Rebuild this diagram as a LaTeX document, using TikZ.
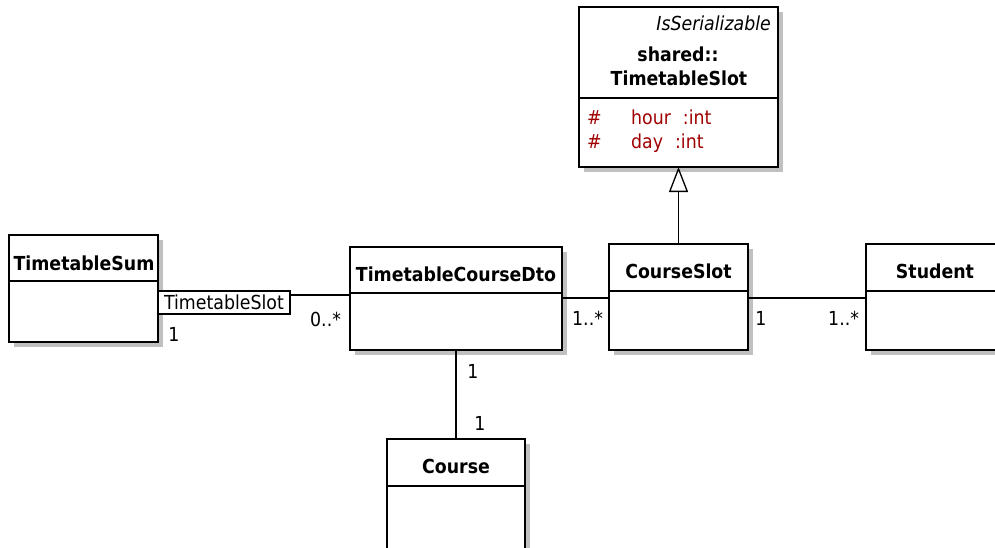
\documentclass[tikz,border=0pt]{standalone}
\usepackage{fontspec}
\setmainfont{DejaVu Sans Condensed}
\usetikzlibrary{shadows,arrows.meta,calc}
\definecolor{attr}{RGB}{160,0,0}
\definecolor{shade}{RGB}{192,192,192}
\tikzset{
  cls/.style={draw, line width=1.4pt, fill=white, inner sep=0pt, outer sep=0pt, anchor=north west,
    drop shadow={shadow xshift=5pt, shadow yshift=-5pt, fill=shade, opacity=1}},
  div/.style={line width=1.2pt},
  ttl/.style={font=\fontsize{19.3}{22}\selectfont\bfseries, anchor=base, inner sep=0pt},
  txt/.style={font=\fontsize{19.3}{22}\selectfont, inner sep=0pt},
  mult/.style={txt, anchor=base},
  assoc/.style={line width=1.3pt},
}
\begin{document}
\begin{tikzpicture}[x=1pt,y=-1pt]
\useasboundingbox (0,0) rectangle (995,547);
\clip (0,0) rectangle (995,547);

% shared::TimetableSlot
\node[cls, minimum width=199pt, minimum height=160pt] (shared) at (579,7) {};
\draw[div] ([yshift=-91pt]shared.north west) -- ([yshift=-91pt]shared.north east);
\node[txt, font=\fontsize{19.3}{22}\selectfont\itshape, anchor=base east] (ser) at (771,30) {IsSerializable};
\node[ttl] (sh1) at (678,61) {shared::};
\node[ttl] (sh2) at (679,85) {TimetableSlot};
\node[txt, text=attr, anchor=base west] (h1) at (587,124) {\#};
\node[txt, text=attr, anchor=base west] (a1) at (631,124) {hour\hspace{12pt}:int};
\node[txt, text=attr, anchor=base west] (h2) at (587,148) {\#};
\node[txt, text=attr, anchor=base west] (a2) at (631,148) {day\hspace{12pt}:int};

% TimetableSum
\node[cls, minimum width=149pt, minimum height=107pt] (sum) at (9,235) {};
\draw[div] ([yshift=-46pt]sum.north west) -- ([yshift=-46pt]sum.north east);
\node[ttl] (sumT) at (84,270) {TimetableSum};
\node[txt, draw, line width=1.2pt, fill=white, anchor=north west, outer sep=0pt,
      minimum width=132pt, minimum height=23pt] (qual) at (158,291) {TimetableSlot};

% TimetableCourseDto
\node[cls, minimum width=212pt, minimum height=103pt] (dto) at (350,247) {};
\draw[div] ([yshift=-46pt]dto.north west) -- ([yshift=-46pt]dto.north east);
\node[ttl] (dtoT) at (456,281) {TimetableCourseDto};

% CourseSlot
\node[cls, minimum width=139pt, minimum height=106pt] (cs) at (609,244) {};
\draw[div] ([yshift=-47pt]cs.north west) -- ([yshift=-47pt]cs.north east);
\node[ttl] (csT) at (678.5,278) {CourseSlot};

% Student
\node[cls, minimum width=140pt, minimum height=106pt] (st) at (866,244) {};
\draw[div] ([yshift=-47pt]st.north west) -- ([yshift=-47pt]st.north east);
\node[ttl] (stT) at (935,278) {Student};

% Course
\node[cls, minimum width=138pt, minimum height=113pt] (course) at (387,439) {};
\draw[div] ([yshift=-47pt]course.north west) -- ([yshift=-47pt]course.north east);
\node[ttl] (courseT) at (456,473) {Course};

% connectors
\coordinate (q1) at ([yshift=-4pt]qual.north east);
\draw[assoc] (q1) -- (q1 -| dto.west);
\coordinate (d1) at ([yshift=-51pt]dto.north east);
\draw[assoc] (d1) -- (d1 -| cs.west);
\coordinate (c1) at ([yshift=-54pt]cs.north east);
\draw[assoc] (c1) -- (c1 -| st.west);
\draw[assoc] (dto.south) -- (course.north);
\draw[assoc, -{Triangle[open, length=25pt, width=19pt, fill=white]}] (cs.north) -- (shared.south);

% multiplicities
\node[mult] (m1) at (174,341) {1};
\node[mult, anchor=base west] (m2) at (310,326) {0..*};
\node[mult, anchor=base west] (m3) at (572,325) {1..*};
\node[mult] (m4) at (761,325) {1};
\node[mult, anchor=base west] (m5) at (828,325) {1..*};
\node[mult] (m6) at (473,378) {1};
\node[mult] (m7) at (480,430) {1};
\end{tikzpicture}
\end{document}
